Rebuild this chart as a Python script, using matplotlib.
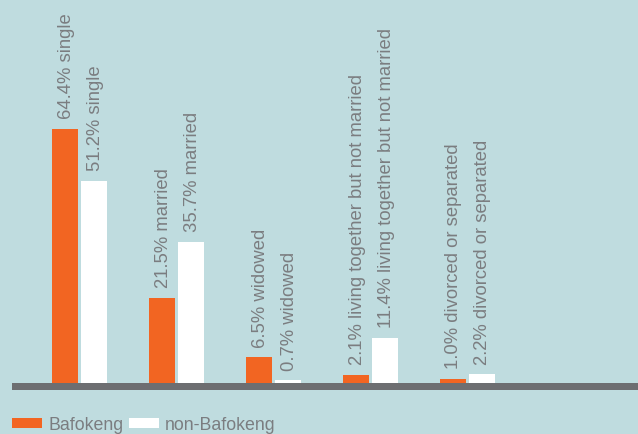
import matplotlib
matplotlib.use('Agg')
import matplotlib.pyplot as plt
from matplotlib.patches import Patch
import numpy as np

# Marital status shares, Bafokeng vs non-Bafokeng (%)
categories = ['single', 'married', 'widowed',
              'living together but not married', 'divorced or separated']
bafokeng = [64.4, 21.5, 6.5, 2.1, 1.0]
non_bafokeng = [51.2, 35.7, 0.7, 11.4, 2.2]
series_names = ['Bafokeng', 'non-Bafokeng']

BG = '#bfdcdf'
ORANGE = '#f26522'
WHITE = '#ffffff'
BASE = '#6d6e71'
TEXT = '#7b7d80'
FS = 13.3

plt.rcParams['font.family'] = ['Liberation Sans', 'DejaVu Sans']

fig = plt.figure(figsize=(6.38, 4.34), dpi=100)
fig.patch.set_facecolor(BG)

# axes spans full width; bottom sits at the lower edge of the grey baseline
ax = fig.add_axes([0, 44 / 434, 1, 390 / 434])
ax.set_facecolor(BG)
for s in ax.spines.values():
    s.set_visible(False)
ax.set_xticks([])
ax.set_yticks([])

k = 3.95         # pixels per percentage point
step = 96.9      # pixels between groups
ax.set_xlim(-79.5 / step, (638 - 79.5) / step)
ax.set_ylim(-7 / k, 383 / k)

x = np.arange(len(categories))
w = 26 / step
off = 14.5 / step

ax.bar(x - off, bafokeng, width=w, color=ORANGE, zorder=2)
ax.bar(x + off, non_bafokeng, width=w, color=WHITE, zorder=2)

# thick grey baseline
ax.axhspan(-7 / k, 0, xmin=12 / 638, xmax=1, color=BASE, lw=0, zorder=1)

for xi, cat, v1, v2 in zip(x, categories, bafokeng, non_bafokeng):
    for xx, v in ((xi - off, v1), (xi + off, v2)):
        ax.annotate(f'{v:.1f}% {cat}', xy=(xx, v), xytext=(1, 7),
                    textcoords='offset points', rotation=90,
                    ha='center', va='bottom', fontsize=FS, color=TEXT)

handles = [Patch(facecolor=ORANGE, edgecolor='none'),
           Patch(facecolor=WHITE, edgecolor='none')]
leg = fig.legend(handles, series_names, loc='lower left',
                 bbox_to_anchor=(12 / 638, 0.5 / 434), ncol=2, frameon=False,
                 fontsize=12.8, handlelength=1.7, handleheight=0.5,
                 handletextpad=0.33, columnspacing=0.3, borderpad=0,
                 borderaxespad=0)
for t in leg.get_texts():
    t.set_color(TEXT)

fig.savefig('out.png', dpi=100, facecolor=BG)
